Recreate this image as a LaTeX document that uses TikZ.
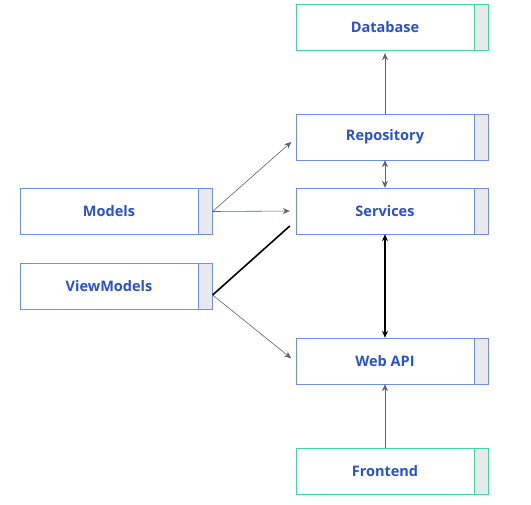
\documentclass[tikz,border=0pt]{standalone}
\usepackage{fontspec}
\setmainfont{Open Sans}
\usepackage{tikz}
\usetikzlibrary{positioning,arrows.meta}
\definecolor{layerblue}{RGB}{112,142,228}
\definecolor{labelblue}{RGB}{42,82,204}
\definecolor{layergreen}{RGB}{64,216,160}
\definecolor{panelgray}{RGB}{232,233,236}
\definecolor{linkgray}{RGB}{92,98,116}

\begin{document}
\begin{tikzpicture}[x=1pt, y=-1pt,
  layer/.style={draw=#1, fill=white, minimum width=178pt, minimum height=46pt, inner sep=0pt,
    text=labelblue, font=\fontsize{14.5}{16}\selectfont\bfseries},
  panel/.style={draw=#1, fill=panelgray, minimum width=14pt, minimum height=46pt, inner sep=0pt},
  link/.style={draw=linkgray, semithick, -{Stealth[length=7pt,width=6pt]}, shorten >=4pt},
  both/.style={draw=linkgray, semithick, {Stealth[length=7pt,width=6pt]}-{Stealth[length=7pt,width=6pt]}}]
\useasboundingbox (0,0) rectangle (531,505);

\node[layer=layergreen] (db) at (385,27) {Database};
\node[panel=layergreen, right=0pt of db] (db-p) {};

\node[layer=layerblue] (repo) at (385,137) {Repository};
\node[panel=layerblue, right=0pt of repo] (repo-p) {};

\node[layer=layerblue] (services) at (385,211) {Services};
\node[panel=layerblue, right=0pt of services] (services-p) {};

\node[layer=layerblue] (webapi) at (385,361) {Web API};
\node[panel=layerblue, right=0pt of webapi] (webapi-p) {};

\node[layer=layergreen] (frontend) at (385,471) {Frontend};
\node[panel=layergreen, right=0pt of frontend] (frontend-p) {};

\node[layer=layerblue] (models) at (109,211.5) {Models};
\node[panel=layerblue, right=0pt of models] (models-p) {};

\node[layer=layerblue] (viewmodels) at (109,286) {ViewModels};
\node[panel=layerblue, right=0pt of viewmodels] (viewmodels-p) {};

\coordinate (vm-out) at ([yshift=-9pt]viewmodels-p.east);
\coordinate (svc-in) at ([xshift=-6pt,yshift=-15pt]services.west);

% vertical links
\draw[link, shorten >=3pt] (repo.north) -- (db.south);
\draw[both] (repo.south) -- (services.north);
\draw[line width=1.6pt, black, {Stealth[length=7pt,width=6pt]}-{Stealth[length=7pt,width=6pt]}] (services.south) -- (webapi.north);
\draw[link, shorten >=0pt] (frontend.north) -- (webapi.south);

% links from the model side
\draw[link, shorten >=6pt] (models-p.east) -- ([yshift=-1pt]repo.west);
\draw[link, shorten >=6pt] (models-p.east) -- (services.west);
\draw[link, shorten >=6pt] (vm-out) -- ([yshift=-1pt]webapi.west);
\draw[line width=1.6pt, black] (vm-out) -- (svc-in);
\end{tikzpicture}
\end{document}
